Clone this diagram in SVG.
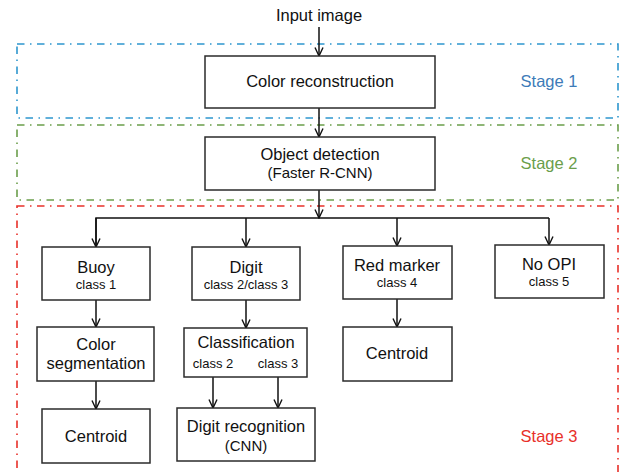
<svg xmlns="http://www.w3.org/2000/svg" width="621" height="472" viewBox="0 0 621 472">
<defs>
<style>
.box{fill:#fff;stroke:#2b2b2b;stroke-width:1.5}
.t{font-family:"Liberation Sans",Arial,sans-serif;font-size:16.5px;fill:#111;text-anchor:middle}
.s{font-family:"Liberation Sans",Arial,sans-serif;font-size:13px;fill:#111;text-anchor:middle}
.p{font-family:"Liberation Sans",Arial,sans-serif;font-size:15px;fill:#111;text-anchor:middle}
.stage{fill:none;stroke-width:1.6;stroke-dasharray:7.5 5.5 1.5 5.5}
.c{fill:none;stroke:#111;stroke-width:1.5}
</style>
<marker id="ah" viewBox="0 0 10 10" refX="9.5" refY="5" markerWidth="10" markerHeight="10" markerUnits="userSpaceOnUse" orient="auto">
<path d="M1,1 L9.5,5 L1,9" fill="none" stroke="#111" stroke-width="1.4"/>
</marker>
</defs>
<rect width="621" height="472" fill="#fff"/>
<g id="stages">
<rect class="stage" x="17" y="44" width="601" height="74" stroke="#2E96CE"/>
<rect class="stage" x="17" y="125" width="601" height="75" stroke="#6B9E4B"/>
<rect class="stage" x="17" y="206" width="601" height="290" stroke="#E8302A"/>
<text class="t" x="549" y="87" style="fill:#3D7BB8">Stage 1</text>
<text class="t" x="549" y="169" style="fill:#6B9E4B">Stage 2</text>
<text class="t" x="549" y="442" style="fill:#E8302A">Stage 3</text>
</g>
<g id="input"><text class="t" x="319" y="21">Input image</text></g>
<g id="connectors">
<line class="c" x1="319" y1="27" x2="319" y2="56" marker-end="url(#ah)"/>
<line class="c" x1="319" y1="108" x2="319" y2="137" marker-end="url(#ah)"/>
<line class="c" x1="319" y1="190" x2="319" y2="218" marker-end="url(#ah)"/>
<polyline class="c" points="96,247 96,218 549,218"/>
<line class="c" x1="96" y1="218" x2="96" y2="247" marker-end="url(#ah)"/>
<line class="c" x1="246" y1="218" x2="246" y2="247" marker-end="url(#ah)"/>
<line class="c" x1="397" y1="218" x2="397" y2="246" marker-end="url(#ah)"/>
<line class="c" x1="549" y1="218" x2="549" y2="245" marker-end="url(#ah)"/>
<line class="c" x1="96" y1="300" x2="96" y2="327" marker-end="url(#ah)"/>
<line class="c" x1="246" y1="300" x2="246" y2="328" marker-end="url(#ah)"/>
<line class="c" x1="397" y1="299" x2="397" y2="327" marker-end="url(#ah)"/>
<line class="c" x1="96" y1="381" x2="96" y2="409" marker-end="url(#ah)"/>
<line class="c" x1="213" y1="377" x2="213" y2="408" marker-end="url(#ah)"/>
<line class="c" x1="278" y1="377" x2="278" y2="408" marker-end="url(#ah)"/>
</g>
<g id="color-reconstruction">
<rect class="box" x="205" y="56" width="230" height="52"/>
<text class="t" x="320" y="87">Color reconstruction</text>
</g>
<g id="object-detection">
<rect class="box" x="205" y="137" width="230" height="53"/>
<text class="t" x="320" y="160">Object detection</text>
<text class="p" x="320" y="178">(Faster R-CNN)</text>
</g>
<g id="buoy">
<rect class="box" x="42" y="247" width="108" height="53"/>
<text class="t" x="96" y="273">Buoy</text>
<text class="s" x="96" y="289">class 1</text>
</g>
<g id="digit">
<rect class="box" x="192" y="247" width="108" height="53"/>
<text class="t" x="246" y="273">Digit</text>
<text class="s" x="246" y="289">class 2/class 3</text>
</g>
<g id="red-marker">
<rect class="box" x="343" y="246" width="109" height="53"/>
<text class="t" x="397" y="271">Red marker</text>
<text class="s" x="397" y="287">class 4</text>
</g>
<g id="no-opi">
<rect class="box" x="495" y="245" width="109" height="53"/>
<text class="t" x="549" y="270">No OPI</text>
<text class="s" x="549" y="286">class 5</text>
</g>
<g id="color-segmentation">
<rect class="box" x="37" y="327" width="117" height="54"/>
<text class="t" x="96" y="350">Color</text>
<text class="t" x="96" y="369">segmentation</text>
</g>
<g id="classification">
<rect class="box" x="184" y="328" width="123" height="49"/>
<text class="t" x="246" y="348">Classification</text>
<text class="s" x="213" y="368">class 2</text>
<text class="s" x="278" y="368">class 3</text>
</g>
<g id="centroid-red">
<rect class="box" x="343" y="327" width="109" height="54"/>
<text class="t" x="397" y="359">Centroid</text>
</g>
<g id="centroid-buoy">
<rect class="box" x="42" y="409" width="108" height="54"/>
<text class="t" x="96" y="442">Centroid</text>
</g>
<g id="digit-recognition">
<rect class="box" x="177" y="408" width="138" height="53"/>
<text class="t" x="246" y="432">Digit recognition</text>
<text class="p" x="246" y="451">(CNN)</text>
</g>
</svg>
